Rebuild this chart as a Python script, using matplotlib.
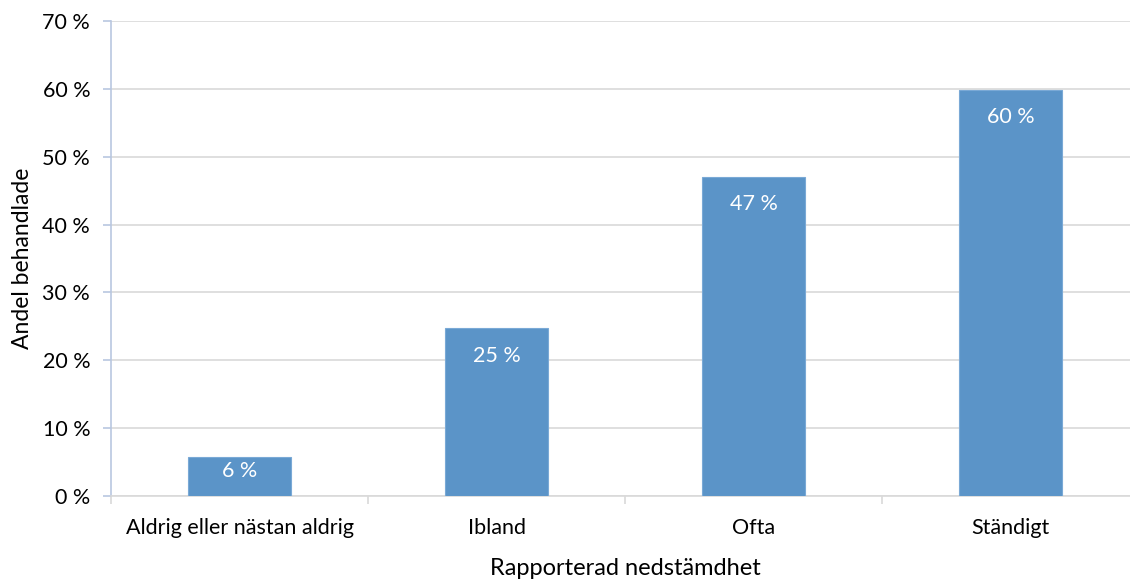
import matplotlib.pyplot as plt
import numpy as np

# andel behandlade per grad av nedstämdhet
kategorier = ['Aldrig eller nästan aldrig', 'Ibland', 'Ofta', 'Ständigt']
andel = [5.8, 24.7, 47.0, 59.8]
etiketter = ['6 %', '25 %', '47 %', '60 %']

plt.rcParams['font.family'] = ['Lato', 'DejaVu Sans']

fig = plt.figure(figsize=(11.3, 5.8), dpi=100)
W, H = 1130, 580
ax = fig.add_axes([111 / W, (H - 496) / H, (1139 - 111) / W, 475 / H])

x = np.arange(len(kategorier))
bars = ax.bar(x, andel, width=0.4, color='#5B94C8', edgecolor='#7AA9D6', linewidth=0.8, zorder=3)

# etiketten inne i stapelns topp, men inte under stapelns nedre del
for b, txt in zip(bars, etiketter):
    y = max(b.get_height() - 4.0, 3.7)
    ax.text(b.get_x() + b.get_width() / 2, y, txt,
            ha='center', va='center', color='white', fontsize=15.5, zorder=4)

ax.set_xlim(-0.5, 3.5)
ax.set_ylim(0, 70)
ax.set_yticks(range(0, 71, 10))
ax.set_yticklabels([f'{v} %' for v in range(0, 71, 10)])
ax.yaxis.grid(True, color='#D9D9D9', linewidth=1.2, zorder=0)

ax.set_xticks(x)
ax.set_xticklabels(kategorier)
ax.set_xticks(np.arange(-0.5, 4, 1), minor=True)
ax.tick_params(axis='x', which='major', length=0, pad=16, labelsize=15.5)
ax.tick_params(axis='x', which='minor', length=6, color='#D9D9D9', width=1.2)
ax.tick_params(axis='y', length=6, color='#B9C7E0', width=1.2, pad=9, labelsize=15.5)

for s in ['top', 'right']:
    ax.spines[s].set_visible(False)
ax.spines['left'].set_color('#B9C7E0')
ax.spines['left'].set_linewidth(1.2)
ax.spines['bottom'].set_color('#D9D9D9')
ax.spines['bottom'].set_linewidth(1.2)

ax.set_ylabel('Andel behandlade', fontsize=16.5, labelpad=7)
ax.set_xlabel('Rapporterad nedstämdhet', fontsize=17, labelpad=14)

fig.savefig('out.png', dpi=100)
